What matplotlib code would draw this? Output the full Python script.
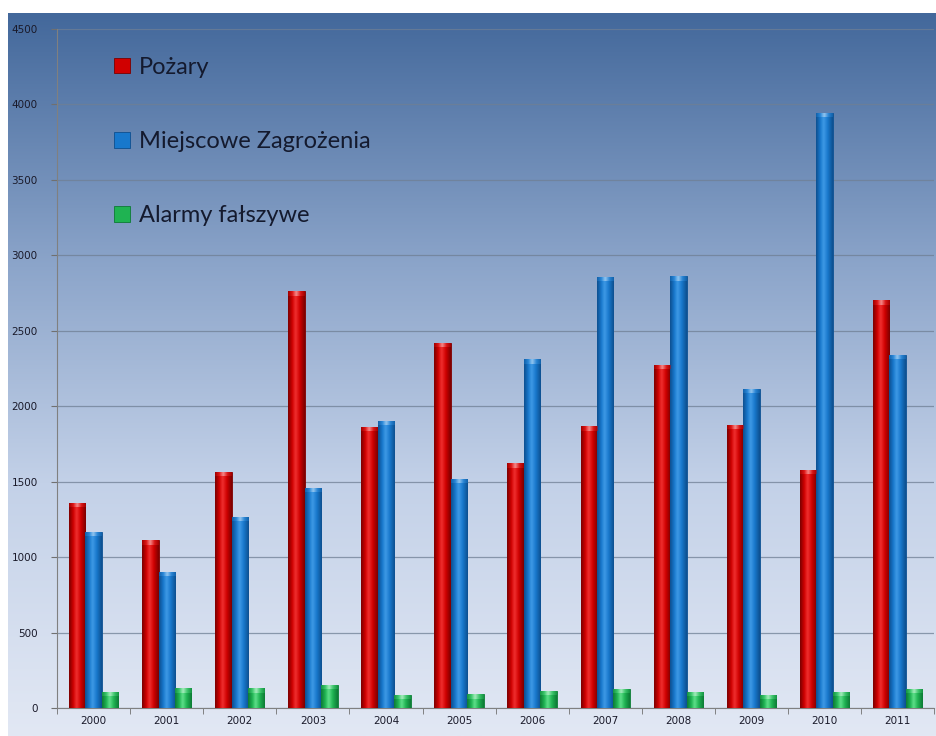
import numpy as np
import matplotlib.pyplot as plt
from matplotlib.colors import LinearSegmentedColormap
from matplotlib.ticker import MultipleLocator, FixedLocator

years = ["2000", "2001", "2002", "2003", "2004", "2005",
         "2006", "2007", "2008", "2009", "2010", "2011"]
pozary = [1360, 1110, 1565, 2760, 1860, 2420, 1620, 1865, 2275, 1875, 1580, 2700]
miejscowe = [1168, 900, 1265, 1460, 1900, 1520, 2310, 2855, 2860, 2115, 3940, 2340]
alarmy = [106, 130, 130, 155, 85, 90, 115, 125, 105, 85, 105, 125]
labels = ["Pożary", "Miejscowe Zagrożenia", "Alarmy fałszywe"]

# (dark edge, base, highlight)
palettes = [
    ("#7a0000", "#d00000", "#f03030"),
    ("#0d4f8f", "#1878cc", "#3f9ae6"),
    ("#0d7a35", "#1fb352", "#5fe08a"),
]

fig = plt.figure(figsize=(9.36, 7.36), dpi=100)

# background gradient
bg = fig.add_axes([0.009, 0, 0.991, 0.982])
bg.axis("off")
grad_cmap = LinearSegmentedColormap.from_list(
    "bg", [(0, "#43689b"), (0.35, "#8ca5ca"), (0.65, "#c3d1e8"), (1, "#e2e8f4")])
bg.imshow(np.linspace(0, 1, 256).reshape(-1, 1), aspect="auto", cmap=grad_cmap,
          extent=[0, 1, 0, 1])

ax = fig.add_axes([0.061, 0.038, 0.937, 0.923])
ax.set_facecolor("none")

x = np.arange(len(years))
w = 0.225
series = [pozary, miejscowe, alarmy]
handles = []
for i, (vals, pal) in enumerate(zip(series, palettes)):
    cmap = LinearSegmentedColormap.from_list(
        "c%d" % i, [(0, pal[0]), (0.25, pal[1]), (0.45, pal[2]),
                    (0.7, pal[1]), (1, pal[0])])
    bars = ax.bar(x + (i - 1) * w, vals, width=w, color=pal[1],
                  edgecolor=pal[0], linewidth=0.6, zorder=3, label=labels[i])
    handles.append(bars)
    shade = np.linspace(0, 1, 64).reshape(1, -1)
    for b in bars:
        bx, by = b.get_x(), b.get_y()
        bw, bh = b.get_width(), b.get_height()
        im = ax.imshow(shade, cmap=cmap, aspect="auto", zorder=3.5,
                       extent=[bx, bx + bw, by, by + bh], interpolation="bicubic")
        im.set_clip_path(b)
        cap = min(bh, 28)
        im2 = ax.imshow(shade, cmap=LinearSegmentedColormap.from_list(
            "t", [pal[1], pal[2], "#ffffff", pal[2], pal[1]]), alpha=0.45,
            aspect="auto", zorder=3.6, extent=[bx, bx + bw, by + bh - cap, by + bh])
        im2.set_clip_path(b)

ax.set_xlim(-0.5, len(years) - 0.5)
ax.set_ylim(0, 4500)
ax.yaxis.set_major_locator(MultipleLocator(500))
ax.grid(axis="y", color="#6f7f94", linewidth=0.9, alpha=0.75, zorder=1)

ax.set_xticks(x)
ax.set_xticklabels(years)
ax.xaxis.set_minor_locator(FixedLocator(np.arange(-0.5, len(years), 1)))
ax.tick_params(axis="x", which="major", length=0, labelsize=7.5,
               labelcolor="#1a1a2a", pad=6)
ax.tick_params(axis="x", which="minor", length=4, color="#707070")
ax.tick_params(axis="y", length=4, color="#707070", labelsize=7.5,
               labelcolor="#1a1a2a", pad=10)
for s in ["top", "right"]:
    ax.spines[s].set_visible(False)
for s in ["left", "bottom"]:
    ax.spines[s].set_color("#808080")
    ax.spines[s].set_linewidth(0.8)

leg = ax.legend(handles=handles, loc="upper left", bbox_to_anchor=(0.041, 0.99),
                frameon=False, labelspacing=2.26, handlelength=0.65,
                handleheight=0.65, handletextpad=0.4,
                prop={"family": "Lato", "size": 17})
for t in leg.get_texts():
    t.set_color("#141a2e")

plt.savefig("out.png", dpi=100)
